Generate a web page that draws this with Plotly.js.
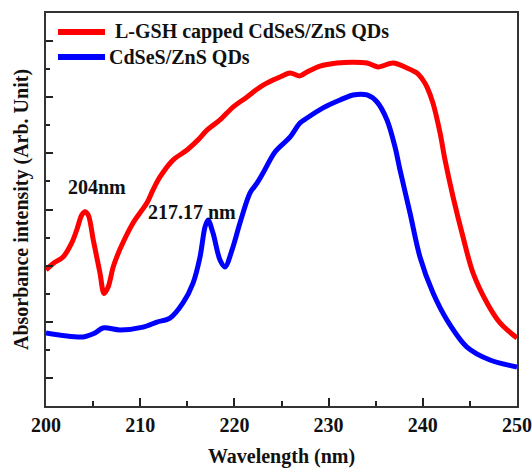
<!DOCTYPE html>
<html>
<head>
<meta charset="utf-8">
<script src="https://cdn.plot.ly/plotly-3.0.1.min.js"></script>
<style>html,body{margin:0;padding:0;background:#fff;}#chart{width:532px;height:468px;}</style>
</head>
<body>
<div id="chart"></div>
<script>
// Red: L-GSH capped CdSeS/ZnS QDs
const redX = [200.00, 200.77, 201.84, 202.73, 203.26, 203.79, 204.14, 204.49, 205.02, 205.73, 206.16, 206.61, 207.14, 207.86, 209.24, 210.72, 211.36, 212.10, 213.48, 214.97, 216.14, 217.09, 218.47, 219.85, 221.34, 222.72, 224.10, 224.84, 225.90, 226.96, 227.71, 229.09, 230.89, 232.59, 234.08, 235.24, 236.84, 238.32, 239.38, 240.02, 240.45, 241.08, 241.83, 242.36, 243.21, 244.27, 245.33, 246.82, 248.20, 250.00];
const redY = [4.85, 5.08, 5.32, 5.81, 6.27, 6.80, 6.92, 6.80, 5.91, 4.74, 4.01, 4.25, 4.96, 5.59, 6.52, 7.24, 7.70, 8.16, 8.76, 9.12, 9.48, 9.83, 10.19, 10.65, 11.01, 11.36, 11.61, 11.72, 11.86, 11.76, 11.90, 12.11, 12.22, 12.25, 12.22, 12.08, 12.22, 12.04, 11.86, 11.61, 11.36, 10.79, 9.73, 8.76, 7.45, 6.02, 4.74, 3.67, 2.96, 2.42];
// Blue: CdSeS/ZnS QDs
const blueX = [200.00, 203.93, 205.20, 206.05, 207.86, 210.30, 211.78, 213.16, 214.54, 215.61, 216.35, 216.88, 217.20, 217.73, 218.47, 219.00, 219.75, 220.59, 221.66, 222.40, 223.04, 224.31, 225.90, 226.96, 227.71, 229.41, 231.21, 232.59, 234.08, 235.14, 236.20, 237.05, 237.58, 238.64, 239.70, 241.08, 242.57, 244.69, 247.13, 250.00];
const blueY = [2.60, 2.46, 2.60, 2.78, 2.71, 2.81, 2.99, 3.13, 3.67, 4.38, 5.31, 6.38, 6.63, 6.16, 5.20, 4.95, 5.56, 6.52, 7.59, 7.94, 8.30, 9.05, 9.58, 10.08, 10.26, 10.62, 10.90, 11.08, 11.08, 10.83, 10.19, 9.23, 8.41, 6.88, 5.31, 4.03, 3.06, 2.10, 1.64, 1.39];
const xTicks = [200, 210, 220, 230, 240, 250];
const seriesNames = ["L-GSH capped CdSeS/ZnS QDs", "CdSeS/ZnS QDs"];
const seriesColors = ["#ff0000", "#0000ff"];
const peakLabels = ["204nm", "217.17 nm"];
const peakX = [205.4, 215.5];
const peakY = [7.8, 6.9];

const serif = "Liberation Serif, Times New Roman, serif";
const fnt = (s) => ({family: serif, size: s, color: "#111", weight: "bold"});
const traces = [redX, blueX].map((xs, i) => ({
  x: xs, y: i === 0 ? redY : blueY, name: seriesNames[i], mode: "lines", showlegend: false,
  line: {color: seriesColors[i], width: 5, shape: "spline", smoothing: 0.9}
}));

// Manual legend (line samples + real text)
const legY = [0.9517, 0.888];
const legTextX = [0.1423, 0.1295];
const legendShapes = seriesNames.map((n, i) => ({type: "line", xref: "paper", yref: "paper",
  x0: 0.0255, x1: 0.1253, y0: legY[i], y1: legY[i], line: {color: seriesColors[i], width: 6}}));
const legendText = seriesNames.map((n, i) => ({xref: "paper", yref: "paper", x: legTextX[i], y: legY[i],
  xanchor: "left", yanchor: "middle", text: n, showarrow: false, font: fnt(20)}));

const layout = {
  width: 532, height: 468,
  margin: {l: 46, r: 15, t: 13, b: 62},
  paper_bgcolor: "#fff", plot_bgcolor: "#fff",
  showlegend: false,
  xaxis: {range: [200, 250], tickvals: xTicks, ticktext: xTicks.map(String), ticks: "inside", ticklen: 8, tickwidth: 2,
          tickcolor: "#222", showline: true, linecolor: "#333", linewidth: 2, mirror: true, showgrid: false, zeroline: false,
          tickfont: fnt(20),
          minor: {dtick: 5, ticks: "inside", ticklen: 5, tickwidth: 2, tickcolor: "#222", showgrid: false},
          title: {text: "Wavelength (nm)", font: fnt(20), standoff: 14}},
  yaxis: {range: [0, 14], tick0: 1, dtick: 2, ticks: "inside", ticklen: 7, tickwidth: 2, tickcolor: "#222",
          showticklabels: false, showline: true, linecolor: "#333", linewidth: 2, mirror: true, showgrid: false, zeroline: false,
          minor: {dtick: 1, ticks: "inside", ticklen: 4, tickwidth: 2, tickcolor: "#222", showgrid: false},
          title: {text: "Absorbance intensity (Arb. Unit)", font: fnt(20), standoff: 10}},
  shapes: legendShapes,
  annotations: peakLabels.map((t, i) => ({x: peakX[i], y: peakY[i], xref: "x", yref: "y", text: t, showarrow: false,
    font: fnt(20)})).concat(legendText)
};
Plotly.newPlot("chart", traces, layout, {displayModeBar: false, staticPlot: true});
</script>
</body>
</html>
